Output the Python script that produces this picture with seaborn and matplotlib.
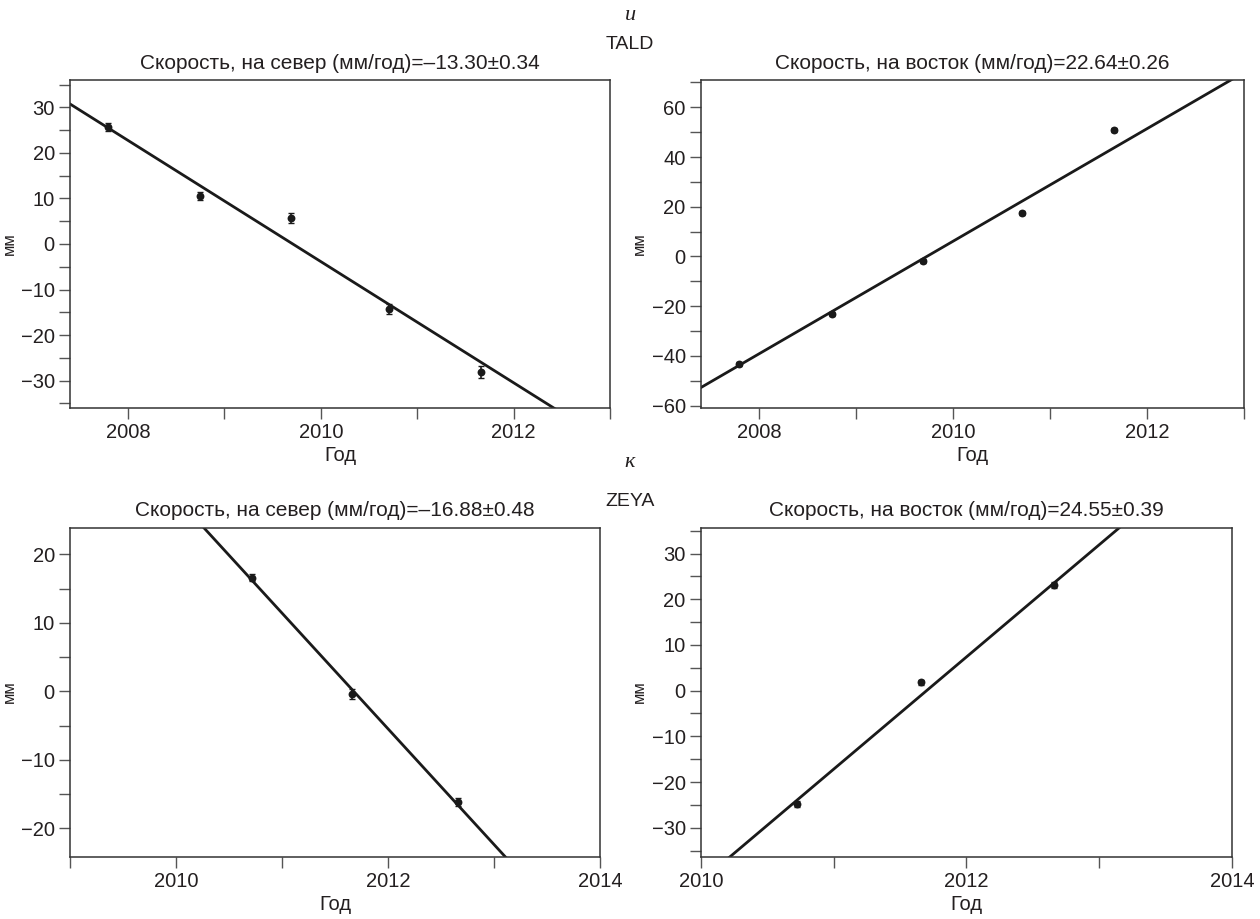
import numpy as np
import pandas as pd
import matplotlib
matplotlib.use("Agg")
import matplotlib.pyplot as plt
from matplotlib.ticker import MultipleLocator
import seaborn as sns

# --- GPS station TALD ---
tald_t = [2007.79, 2008.75, 2009.69, 2010.71, 2011.66]
tald_north = [25.6, 10.6, 5.6, -14.2, -28.0]
tald_north_err = [0.9, 0.9, 1.1, 1.1, 1.3]
tald_east = [-43.2, -23.2, -1.9, 17.6, 50.7]
tald_east_err = [0.8, 0.8, 0.8, 0.8, 0.8]
tald_vn, tald_vn_err, tald_n0 = -13.30, 0.34, 2009.71
tald_ve, tald_ve_err, tald_e0 = 22.64, 0.26, 2009.73

# --- GPS station ZEYA ---
zeya_t = [2010.72, 2011.66, 2012.66]
zeya_north = [16.6, -0.4, -16.1]
zeya_north_err = [0.5, 0.7, 0.6]
zeya_east = [-24.8, 1.8, 23.1]
zeya_east_err = [0.6, 0.6, 0.6]
zeya_vn, zeya_vn_err, zeya_n0 = -16.88, 0.48, 2011.676
zeya_ve, zeya_ve_err, zeya_e0 = 24.55, 0.39, 2011.70

sns.set_theme(style="ticks")
plt.rcParams["font.family"] = ["Liberation Sans", "DejaVu Sans"]
plt.rcParams["axes.unicode_minus"] = True

ink = "#231f20"
fig = plt.figure(figsize=(12.6, 9.19), dpi=100)

panels = [
    # rect, t, values, err, slope, err_slope, t0, direction, xlim, ylim, ymajor, yminor, xticks
    ([0.0556, 0.556, 0.4286, 0.357], tald_t, tald_north, tald_north_err,
     tald_vn, tald_vn_err, tald_n0, "на север", (2007.4, 2013.0), (-36, 36), 10, 5,
     [2008, 2010, 2012]),
    ([0.5563, 0.556, 0.431, 0.357], tald_t, tald_east, tald_east_err,
     tald_ve, tald_ve_err, tald_e0, "на восток", (2007.4, 2013.0), (-61, 71), 20, 10,
     [2008, 2010, 2012]),
    ([0.0556, 0.068, 0.4206, 0.358], zeya_t, zeya_north, zeya_north_err,
     zeya_vn, zeya_vn_err, zeya_n0, "на север", (2009.0, 2014.0), (-24.1, 23.9), 10, 5,
     [2010, 2012, 2014]),
    ([0.5563, 0.068, 0.4214, 0.358], zeya_t, zeya_east, zeya_east_err,
     zeya_ve, zeya_ve_err, zeya_e0, "на восток", (2010.0, 2014.0), (-36.3, 35.7), 10, 5,
     [2010, 2012, 2014]),
]

for rect, t, vals, err, v, verr, t0, direction, xlim, ylim, ymaj, ymin, xt in panels:
    ax = fig.add_axes(rect)
    df = pd.DataFrame({"t": t, "mm": vals, "err": err})

    # trend line with the stated velocity
    tt = np.linspace(xlim[0] - 0.5, xlim[1] + 0.5, 50)
    fit = pd.DataFrame({"t": tt, "mm": v * (tt - t0)})
    sns.lineplot(data=fit, x="t", y="mm", ax=ax, color="#1a1a1a", lw=2.0)

    ax.errorbar(df["t"], df["mm"], yerr=df["err"], fmt="none",
                ecolor="#1a1a1a", elinewidth=1.2, capsize=2.5, capthick=1.0)
    sns.scatterplot(data=df, x="t", y="mm", ax=ax, color="#1a1a1a",
                    s=32, edgecolor="#1a1a1a", linewidth=0, zorder=5)

    ax.set_xlim(*xlim)
    ax.set_ylim(*ylim)
    ax.set_xticks(xt)
    ax.xaxis.set_minor_locator(MultipleLocator(1))
    ax.yaxis.set_major_locator(MultipleLocator(ymaj))
    ax.yaxis.set_minor_locator(MultipleLocator(ymin))
    ax.tick_params(which="both", direction="out", length=8, width=1.0,
                   color="#555555", labelsize=14.5, labelcolor=ink, pad=3)
    for s in ax.spines.values():
        s.set_color("#333333")
        s.set_linewidth(1.1)
    ax.set_xlabel("Год", fontsize=14.5, color=ink, labelpad=3)
    ax.set_ylabel("мм", fontsize=12, color=ink, labelpad=3)
    sign = "–" if v < 0 else ""
    ax.set_title(f"Скорость, {direction} (мм/год)={sign}{abs(v):.2f}±{verr:.2f}",
                 fontsize=15, color=ink, pad=8)

# station captions between the columns
serif = ["Liberation Serif", "DejaVu Serif"]
fig.text(0.5, 0.983, "и", family=serif, style="italic", fontsize=16,
         ha="center", va="center", color=ink)
fig.text(0.5, 0.952, "TALD", fontsize=14, ha="center", va="center", color=ink)
fig.text(0.5, 0.497, "к", family=serif, style="italic", fontsize=16,
         ha="center", va="center", color=ink)
fig.text(0.5, 0.454, "ZEYA", fontsize=14, ha="center", va="center", color=ink)

fig.savefig("out.png", dpi=100, facecolor="white")
